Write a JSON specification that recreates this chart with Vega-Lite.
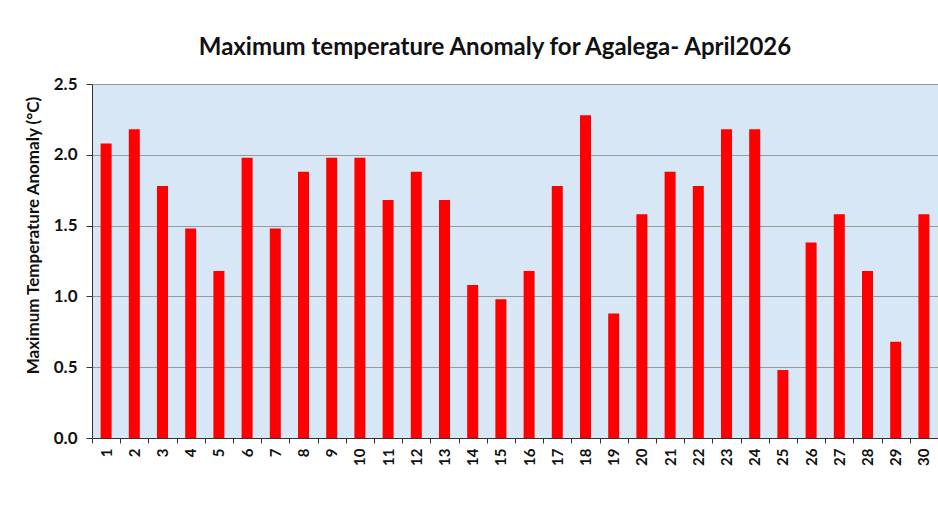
{
  "$schema": "https://vega.github.io/schema/vega-lite/v6.json",
  "width": 846,
  "height": 354,
  "autosize": {"type": "none"},
  "padding": {"left": 92, "top": 84, "right": 0, "bottom": 70},
  "background": "white",
  "title": {
    "text": "Maximum temperature Anomaly for Agalega- April2026",
    "font": "Lato",
    "fontSize": 24,
    "fontWeight": "bold",
    "color": "#111111",
    "anchor": "middle",
    "dx": -20,
    "offset": 15
  },
  "data": {
    "values": [
      {"day": 1, "anomaly": 2.08}, {"day": 2, "anomaly": 2.18}, {"day": 3, "anomaly": 1.78},
      {"day": 4, "anomaly": 1.48}, {"day": 5, "anomaly": 1.18}, {"day": 6, "anomaly": 1.98},
      {"day": 7, "anomaly": 1.48}, {"day": 8, "anomaly": 1.88}, {"day": 9, "anomaly": 1.98},
      {"day": 10, "anomaly": 1.98}, {"day": 11, "anomaly": 1.68}, {"day": 12, "anomaly": 1.88},
      {"day": 13, "anomaly": 1.68}, {"day": 14, "anomaly": 1.08}, {"day": 15, "anomaly": 0.98},
      {"day": 16, "anomaly": 1.18}, {"day": 17, "anomaly": 1.78}, {"day": 18, "anomaly": 2.28},
      {"day": 19, "anomaly": 0.88}, {"day": 20, "anomaly": 1.58}, {"day": 21, "anomaly": 1.88},
      {"day": 22, "anomaly": 1.78}, {"day": 23, "anomaly": 2.18}, {"day": 24, "anomaly": 2.18},
      {"day": 25, "anomaly": 0.48}, {"day": 26, "anomaly": 1.38}, {"day": 27, "anomaly": 1.58},
      {"day": 28, "anomaly": 1.18}, {"day": 29, "anomaly": 0.68}, {"day": 30, "anomaly": 1.58}
    ]
  },
  "mark": {"type": "bar", "color": "#ff0000"},
  "encoding": {
    "x": {
      "field": "day",
      "type": "ordinal",
      "scale": {"paddingInner": 0.61, "paddingOuter": 0.305},
      "axis": {
        "title": null,
        "labelAngle": -90,
        "labelAlign": "right",
        "labelBaseline": "middle",
        "labelFont": "Lato",
        "labelFontSize": 15,
        "labelFontWeight": "bold",
        "labelColor": "#111111",
        "labelPadding": 5,
        "tickSize": 5,
        "tickColor": "#333333",
        "domainColor": "#333333",
        "tickOffset": -14.1,
        "labelOffset": 14.1,
        "grid": false
      }
    },
    "y": {
      "field": "anomaly",
      "type": "quantitative",
      "scale": {"domain": [0, 2.5], "nice": false},
      "axis": {
        "title": "Maximum Temperature Anomaly (°C)",
        "titleFont": "Lato",
        "titleFontSize": 17,
        "titleFontWeight": "bold",
        "titleColor": "#111111",
        "titleX": -59,
        "titleY": 151,
        "titleBaseline": "middle",
        "titleAngle": -90,
        "values": [0, 0.5, 1, 1.5, 2, 2.5],
        "format": ".1f",
        "labelFont": "Lato",
        "labelFontSize": 17,
        "labelFontWeight": "bold",
        "labelColor": "#111111",
        "labelPadding": 9,
        "tickSize": 6,
        "tickColor": "#333333",
        "domainColor": "#333333",
        "gridColor": "#9a9a9a",
        "gridWidth": 1
      }
    }
  },
  "config": {
    "view": {"fill": "#d7e7f6", "stroke": null}
  }
}
